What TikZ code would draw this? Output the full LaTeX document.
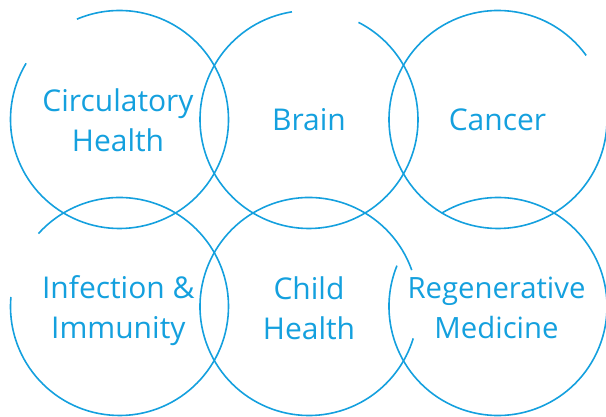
\documentclass[tikz,border=0pt]{standalone}
\usepackage{fontspec}
\setmainfont{Open Sans}
\usetikzlibrary{calc}
\definecolor{ringblue}{RGB}{20,160,222}
\begin{document}
\begin{tikzpicture}[x=1pt,y=1pt,
  ring/.style={draw=ringblue,line width=1.6pt},
  lbl/.style={text=ringblue,font=\fontsize{30}{40}\selectfont,align=center,inner sep=0pt,anchor=base}]
\useasboundingbox (0,0) rectangle (606,417);
\coordinate (c1) at (119.5,297.5);
\coordinate (c2) at (309,297.5);
\coordinate (c3) at (498,297.5);
\coordinate (c4) at (119.5,110.5);
\coordinate (c5) at (309,110.5);
\coordinate (c6) at (498,110.5);
\def\R{109}
\draw[ring] ($(c1)+(149:\R)$) arc[start angle=149,end angle=473,radius=\R];
\draw[ring] ($(c2)+(99:\R)$) arc[start angle=99,end angle=423,radius=\R];
\draw[ring] ($(c3)+(36:\R)$) arc[start angle=36,end angle=360,radius=\R];
\draw[ring] ($(c4)+(175:\R)$) arc[start angle=175,end angle=498,radius=\R];
\draw[ring] ($(c5)+(19.5:\R)$) arc[start angle=19.5,end angle=343,radius=\R];
\draw[ring] ($(c6)+(158:\R)$) arc[start angle=158,end angle=481,radius=\R];
\node[lbl] (t1) at (118,265.3) {Circulatory\\Health};
\node[lbl] (t2) at (309,286) {Brain};
\node[lbl] (t3) at (497.5,286) {Cancer};
\node[lbl] (t4) at (118.3,78.3) {Infection \&\\Immunity};
\node[lbl] (t5) at (309,77) {Child\\Health};
\node[lbl,font=\fontsize{29.3}{40}\selectfont] (t6) at (496.5,78.3) {Regenerative\\Medicine};
\end{tikzpicture}
\end{document}
